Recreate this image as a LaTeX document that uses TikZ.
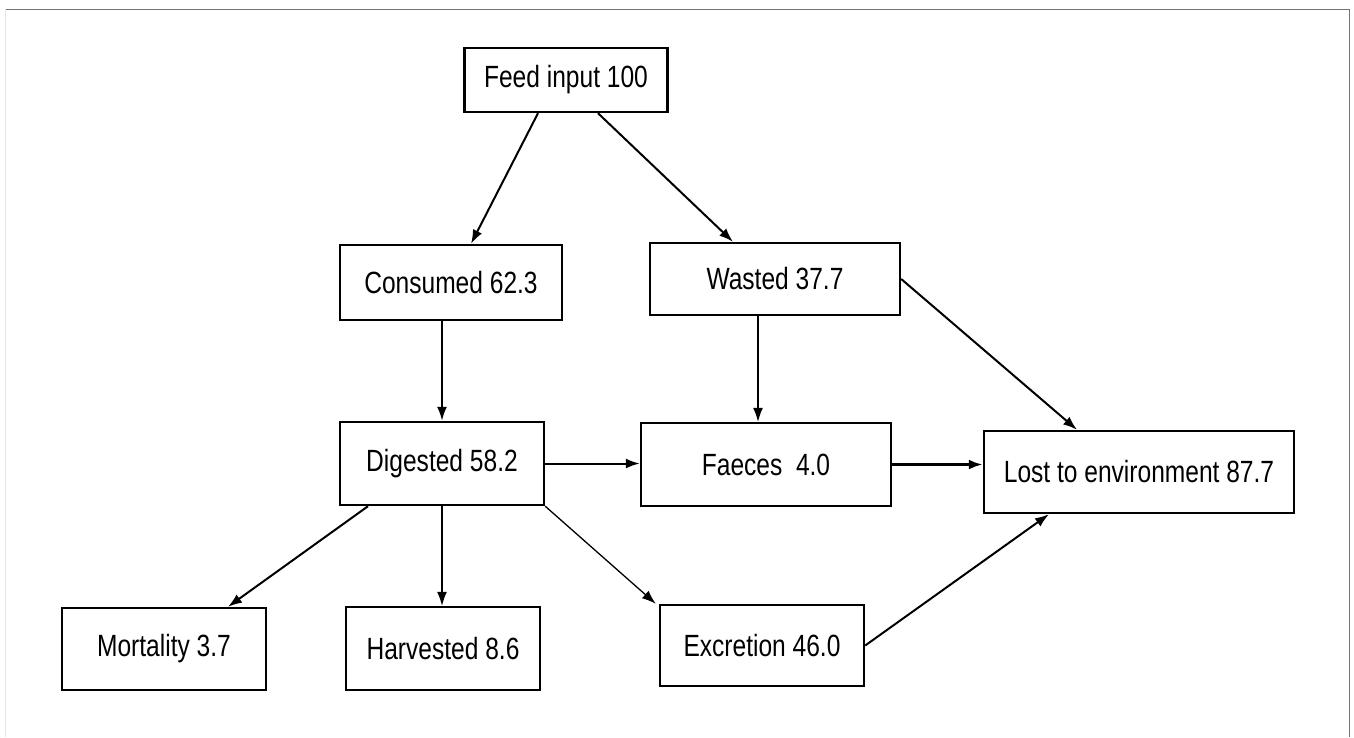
\documentclass[tikz,border=0pt]{standalone}
\usepackage{fontspec}
\setmainfont[FakeStretch=0.8]{Liberation Sans}
\usepackage{tikz}
\usetikzlibrary{arrows.meta,calc,positioning}
\tikzset{box node/.style={rectangle,draw,line width=2.4pt,inner sep=0pt,font=\fontsize{30.7}{36}\selectfont},
         flow/.style={->,line width=2pt},
         thin flow/.style={->,line width=1.3pt},
         thick flow/.style={->,line width=3pt},
         frame line/.style={line width=1pt}
}

\begin{document}
\begin{tikzpicture}[>={Latex[length=14pt,width=10pt]}, x=1pt, y=-1pt]
\useasboundingbox (0,0) rectangle (1354,737);

% scan frame
\draw[frame line, black!55] (5,9) -- (1349,9) -- (1349,737);
\draw[frame line, black!10] (5,9) -- (5,737);

\node [box node, minimum width=203pt, minimum height=64pt] (0) at (566,80) {Feed input 100};
\node [box node, minimum width=222pt, minimum height=75pt] (1) at (451,282.5) {Consumed 62.3};
\node [box node, minimum width=250pt, minimum height=72pt] (2) at (775,279) {Wasted 37.7};
\node [box node, minimum width=204pt, minimum height=83pt] (3) at (442,463.5) {Digested 58.2};
\node [box node, minimum width=250pt, minimum height=83pt] (4) at (766,464.5) {Faeces\ \ 4.0};
\node [box node, minimum width=310pt, minimum height=82pt] (5) at (1139,472) {Lost to environment 87.7};
\node [box node, minimum width=204pt, minimum height=82pt] (6) at (164,649) {Mortality 3.7};
\node [box node, minimum width=194pt, minimum height=83pt] (7) at (443,648.5) {Harvested 8.6};
\node [box node, minimum width=204pt, minimum height=81pt] (8) at (762,645.5) {Excretion 46.0};

% feed split
\draw[flow] ($(0.south)+(-28,0)$) -- ($(1.north)+(20,0)$);
\draw[flow] ($(0.south)+(32,0)$) -- ($(2.north)+(-42,0)$);

% consumed and wasted
\draw[flow] (1.south -| 3.north) -- (3.north);
\draw[thin flow] ($(2.south)+(-17,0)$) -- ($(4.north)+(-8,0)$);
\draw[flow] (2.east) -- ($(5.north)+(-62,0)$);

% digested
\draw[flow] (3.east) -- (3.east -| 4.west);
\draw[thick flow] (4.east) -- (4.east -| 5.west);
\draw[flow] ($(3.south)+(-74,0)$) -- ($(6.north)+(64,0)$);
\draw[thin flow] (3.south) -- (3.south |- 7.north);
\draw[thin flow] (3.south east) -- ($(8.north west)+(-3,0)$);
\draw[flow] (8.east) -- ($(5.south)+(-90,0)$);
\end{tikzpicture}
\end{document}
